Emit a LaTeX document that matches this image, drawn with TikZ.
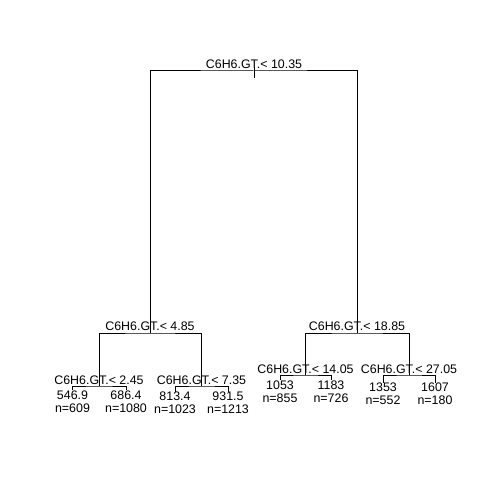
\documentclass[tikz,border=0pt]{standalone}
\usepackage{fontspec}
\setmainfont{Liberation Sans}
\begin{document}
\begin{tikzpicture}[x=1bp,y=-1bp,line width=1bp,font=\fontsize{12.4bp}{14bp}\selectfont]
\useasboundingbox (0,0) rectangle (480,480);
\coordinate (root) at (254,71);
\coordinate (L) at (150,333);
\coordinate (R) at (357,333);
\coordinate (LL) at (99,386);
\coordinate (LR) at (201.5,386);
\coordinate (RL) at (305.5,375);
\coordinate (RR) at (409,375);
\coordinate (l1) at (72.5,390);
\coordinate (l2) at (126,390);
\coordinate (l3) at (175,391.5);
\coordinate (l4) at (228,391.5);
\coordinate (r1) at (280,380);
\coordinate (r2) at (331,380);
\coordinate (r3) at (383,382.5);
\coordinate (r4) at (435,382.5);
\draw (L) |- (root) -| (R);
\draw (root) ++(0,-4) -- ++(0,11);
\draw (LL) |- (L) -| (LR);
\draw (RL) |- (R) -| (RR);
\draw (l1) |- (LL) -| (l2);
\draw (l3) |- (LR) -| (l4);
\draw (r1) |- (RL) -| (r2);
\draw (r3) |- (RR) -| (r4);
\node[anchor=base] (sroot) at ([yshift=2bp]root) {C6H6.GT.< 10.35};
\node[anchor=base] (sL) at ([yshift=2.5bp]L) {C6H6.GT.< 4.85};
\node[anchor=base] (sR) at ([yshift=2.5bp]R) {C6H6.GT.< 18.85};
\node[anchor=base] (sLL) at ([yshift=2bp]LL) {C6H6.GT.< 2.45};
\node[anchor=base] (sLR) at ([yshift=2bp]LR) {C6H6.GT.< 7.35};
\node[anchor=base] (sRL) at ([yshift=2bp]RL) {C6H6.GT.< 14.05};
\node[anchor=base] (sRR) at ([yshift=2bp]RR) {C6H6.GT.< 27.05};
\node[anchor=base] (v1) at ([yshift=-9bp]l1) {546.9};
\node[anchor=base] (v2) at ([yshift=-9bp]l2) {686.4};
\node[anchor=base] (v3) at ([yshift=-9bp]l3) {813.4};
\node[anchor=base] (v4) at ([yshift=-9bp]l4) {931.5};
\node[anchor=base] (v5) at ([yshift=-9bp]r1) {1053};
\node[anchor=base] (v6) at ([yshift=-9bp]r2) {1183};
\node[anchor=base] (v7) at ([yshift=-9bp]r3) {1353};
\node[anchor=base] (v8) at ([yshift=-9bp]r4) {1607};
\node[anchor=base] (n1) at ([yshift=-22bp]l1) {n=609};
\node[anchor=base] (n2) at ([yshift=-22bp]l2) {n=1080};
\node[anchor=base] (n3) at ([yshift=-22bp]l3) {n=1023};
\node[anchor=base] (n4) at ([yshift=-22bp]l4) {n=1213};
\node[anchor=base] (n5) at ([yshift=-22bp]r1) {n=855};
\node[anchor=base] (n6) at ([yshift=-22bp]r2) {n=726};
\node[anchor=base] (n7) at ([yshift=-22bp]r3) {n=552};
\node[anchor=base] (n8) at ([yshift=-22bp]r4) {n=180};
\end{tikzpicture}
\end{document}
